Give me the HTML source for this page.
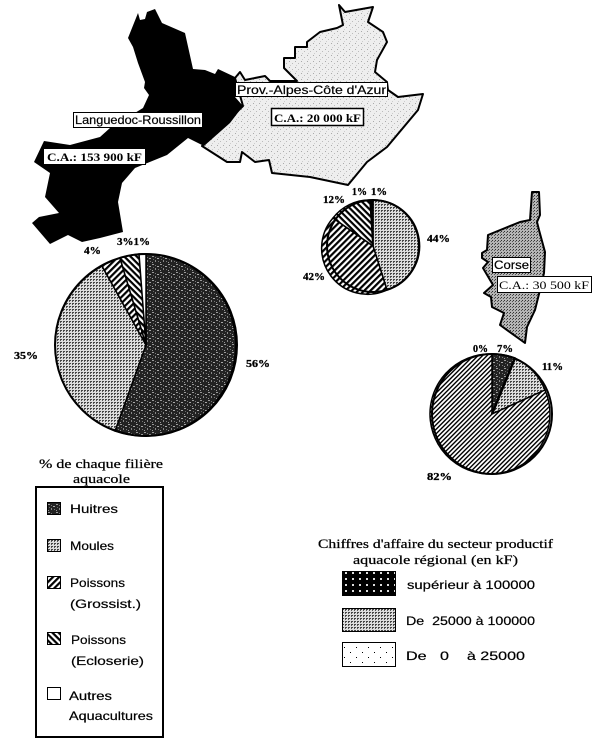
<!DOCTYPE html>
<html lang="fr">
<head>
<meta charset="utf-8">
<title>Secteur aquacole régional</title>
<style>
html,body{margin:0;padding:0;background:#fff}
svg{display:block}
text{fill:#000;white-space:pre}
.s{font-family:"Liberation Sans",sans-serif;font-size:12px;stroke:#000;stroke-width:.2px}
.b{font-family:"Liberation Serif",serif;font-size:12px;font-weight:bold}
.p{font-family:"Liberation Serif",serif;font-size:11px;font-weight:bold;stroke:#000;stroke-width:.3px}
.t{font-family:"Liberation Serif",serif;font-size:13px;stroke:#000;stroke-width:.25px}
</style>
</head>
<body>
<svg xmlns="http://www.w3.org/2000/svg" width="600" height="747" viewBox="0 0 600 747">
<defs>
<pattern id="dark" width="8" height="8" patternUnits="userSpaceOnUse">
<rect width="8" height="8" fill="#222"/>
<rect x="0" y="0" width="2" height="1" fill="#999"/><rect x="3" y="1" width="1" height="1" fill="#777"/>
<rect x="5" y="2" width="2" height="1" fill="#aaa"/><rect x="1" y="3" width="1" height="1" fill="#666"/>
<rect x="3" y="4" width="1" height="2" fill="#888"/><rect x="6" y="5" width="1" height="1" fill="#777"/>
<rect x="0" y="6" width="1" height="1" fill="#999"/>
</pattern>
<pattern id="moules" width="3" height="3" patternUnits="userSpaceOnUse">
<rect width="3" height="3" fill="#ddd"/>
<rect x="0" y="0" width="2" height="1" fill="#444"/><rect x="0" y="1" width="1" height="1" fill="#555"/>
</pattern>
<pattern id="gross" width="4.4" height="4.4" patternUnits="userSpaceOnUse" patternTransform="rotate(-45)">
<rect width="4.4" height="4.4" fill="#fff"/><rect width="4.4" height="2.2" fill="#000"/>
</pattern>
<pattern id="eclo" width="4.4" height="4.4" patternUnits="userSpaceOnUse" patternTransform="rotate(45)">
<rect width="4.4" height="4.4" fill="#fff"/><rect width="4.4" height="2.2" fill="#000"/>
</pattern>
<pattern id="fine" width="3.2" height="3.2" patternUnits="userSpaceOnUse" patternTransform="rotate(-45)">
<rect width="3.2" height="3.2" fill="#fff"/><rect width="3.2" height="1.4" fill="#000"/>
</pattern>
<pattern id="paca" width="6" height="6" patternUnits="userSpaceOnUse">
<rect width="6" height="6" fill="#eee"/>
<rect x="1" y="1" width="1" height="1" fill="#aaa"/><rect x="4" y="3" width="1" height="1" fill="#bbb"/>
<rect x="2" y="5" width="1" height="1" fill="#ccc"/>
</pattern>
<pattern id="corse" width="3" height="3" patternUnits="userSpaceOnUse">
<rect width="3" height="3" fill="#b5b5b5"/>
<rect x="0" y="0" width="1" height="1" fill="#333"/><rect x="2" y="1" width="1" height="1" fill="#555"/>
</pattern>
<pattern id="blackdots" width="7" height="6" patternUnits="userSpaceOnUse">
<rect width="7" height="6" fill="#000"/><rect x="2" y="2" width="2" height="2" fill="#ddd"/>
</pattern>
<pattern id="sparse" width="12" height="10" patternUnits="userSpaceOnUse">
<rect width="12" height="10" fill="#fff"/><rect x="2" y="2" width="1" height="1" fill="#000"/><rect x="8" y="7" width="1" height="1" fill="#000"/>
</pattern>
</defs>

<!-- PACA -->
<path d="M339 5L345 12L373 7L368 22L383 32L387 42L377 60L375 72L387 82L388 90L398 97L423 94L418 110L387 147L367 162L348 185L310 177L272 173L269 160L255 162L242 152L240 162L227 162L202 146L243 106L235 78L240 72L245 80L265 76L270 81L297 81L284 68L284 58L295 58L295 47L307 47L307 42L320 32L337 28L343 25Z" fill="url(#paca)" stroke="#000" stroke-width="2" stroke-linejoin="round"/>

<!-- Languedoc-Roussillon -->
<path d="M138 13L140 20L145 19L147 12L155 9L162 23L185 33L193 69L205 70L215 74L218 69L235 77L235 97L243 106L230 123L204 146L188 138L167 155L135 168L122 183L118 202L123 232L100 238L82 242L68 235L50 244L32 223L39 217L59 213L45 197L50 173L34 162L44 141L70 145L100 137L110 128L143 108L149 95L144 88L145 82L138 63L133 47L128 38Z" fill="#000"/>

<!-- Corse -->
<path d="M532 192L539 192L540 215L537 222L539 230L545 252L544 273L540 290L535 310L527 327L525 343L500 325L504 313L492 307L491 297L484 293L493 285L483 268L488 262L482 258L482 253L487 250L488 235L520 222L530 220Z" fill="url(#corse)" stroke="#000" stroke-width="2" stroke-linejoin="round"/>

<!-- Big pie -->
<g stroke="#000" stroke-width="1.5" stroke-linejoin="round">
<path d="M146 345L146 254A91 91 0 1 1 115 431Z" fill="url(#dark)"/>
<path d="M146 345L115 431A91 91 0 0 1 102 266Z" fill="url(#moules)"/>
<path d="M146 345L102 266A91 91 0 0 1 120 258Z" fill="url(#gross)"/>
<path d="M146 345L120 258A91 91 0 0 1 139 254Z" fill="url(#eclo)"/>
<path d="M146 345L139 254A91 91 0 0 1 146 254Z" fill="#fff"/>
<circle cx="146" cy="345" r="91" fill="none" stroke-width="2"/>
</g>

<!-- Medium pie -->
<g stroke="#000" stroke-width="1.5" stroke-linejoin="round">
<path d="M373 246L373 200A46 46 0 0 1 387 290Z" fill="url(#moules)"/>
<path d="M373 246L387 290A46 46 0 0 1 333 218Z" fill="url(#gross)"/>
<path d="M373 246L333 218A46 46 0 0 1 370 200Z" fill="url(#eclo)"/>
<path d="M373 246L370 200L373 200Z" fill="#000"/>
<circle cx="373" cy="246" r="46" fill="none" stroke-width="2"/>
</g>

<!-- Corse pie -->
<g stroke="#000" stroke-width="1.5" stroke-linejoin="round">
<path d="M492 414L492 354A60 60 0 0 1 515 358Z" fill="url(#dark)"/>
<path d="M492 414L515 358A60 60 0 0 1 545 390Z" fill="url(#moules)"/>
<path d="M492 414L545 390A60 60 0 1 1 492 354Z" fill="url(#fine)"/>
<path d="M492 414L515 358" fill="none" stroke-width="2.5"/>
<circle cx="492" cy="414" r="60" fill="none" stroke-width="2"/>
</g>

<!-- Map labels -->
<rect x="73.5" y="112.5" width="129" height="15" fill="#fff" stroke="#000"/>
<text class="s" x="75" y="124" textLength="126" lengthAdjust="spacingAndGlyphs">Languedoc-Roussillon</text>
<rect x="43.5" y="148.5" width="102" height="16" fill="#fff" stroke="#000"/>
<text class="b" x="47" y="161" textLength="95" lengthAdjust="spacingAndGlyphs">C.A.: 153 900 kF</text>
<rect x="235.5" y="82.5" width="152" height="14" fill="#fff" stroke="#000"/>
<text class="s" x="237" y="94" textLength="149" lengthAdjust="spacingAndGlyphs">Prov.-Alpes-Côte d'Azur</text>
<rect x="271.5" y="108.5" width="92" height="17" fill="#fff" stroke="#000" stroke-width="1.5"/>
<text class="b" x="274" y="122" textLength="87" lengthAdjust="spacingAndGlyphs">C.A.: 20 000 kF</text>
<rect x="492.5" y="257.5" width="38" height="15" fill="#fff" stroke="#000"/>
<text class="s" x="494" y="269" textLength="35" lengthAdjust="spacingAndGlyphs">Corse</text>
<rect x="497.5" y="276.5" width="94" height="16" fill="#fff" stroke="#000"/>
<text class="b" x="499" y="289" textLength="90" lengthAdjust="spacingAndGlyphs" style="font-weight:normal">C.A.: 30 500 kF</text>

<!-- Percent labels -->
<text class="p" x="84" y="254" textLength="17" lengthAdjust="spacingAndGlyphs">4%</text>
<text class="p" x="117" y="245" textLength="33" lengthAdjust="spacingAndGlyphs">3%1%</text>
<text class="p" x="14" y="359" textLength="24" lengthAdjust="spacingAndGlyphs">35%</text>
<text class="p" x="246" y="367" textLength="24" lengthAdjust="spacingAndGlyphs">56%</text>
<text class="p" x="323" y="203" textLength="22" lengthAdjust="spacingAndGlyphs">12%</text>
<text class="p" x="352" y="195" textLength="15" lengthAdjust="spacingAndGlyphs">1%</text>
<text class="p" x="371" y="195" textLength="16" lengthAdjust="spacingAndGlyphs">1%</text>
<text class="p" x="427" y="242" textLength="23" lengthAdjust="spacingAndGlyphs">44%</text>
<text class="p" x="303" y="280" textLength="22" lengthAdjust="spacingAndGlyphs">42%</text>
<text class="p" x="473" y="352" textLength="15" lengthAdjust="spacingAndGlyphs">0%</text>
<text class="p" x="497" y="352" textLength="16" lengthAdjust="spacingAndGlyphs">7%</text>
<text class="p" x="542" y="370" textLength="21" lengthAdjust="spacingAndGlyphs">11%</text>
<text class="p" x="427" y="480" textLength="25" lengthAdjust="spacingAndGlyphs">82%</text>

<!-- Left legend -->
<text class="t" x="39" y="468" textLength="124" lengthAdjust="spacingAndGlyphs">% de chaque filière</text>
<text class="t" x="73" y="483" textLength="57" lengthAdjust="spacingAndGlyphs">aquacole</text>
<rect x="36" y="487" width="127" height="250" fill="#fff" stroke="#000" stroke-width="2"/>
<g stroke="#000">
<rect x="47.5" y="502.5" width="13" height="12" fill="url(#dark)"/>
<rect x="47.5" y="539.5" width="13" height="12" fill="url(#moules)"/>
<rect x="47.5" y="576.5" width="13" height="12" fill="url(#gross)"/>
<rect x="47.5" y="632.5" width="13" height="12" fill="url(#eclo)"/>
<rect x="47.5" y="687.5" width="13" height="12" fill="#fff"/>
</g>
<text class="s" x="70" y="513" textLength="48" lengthAdjust="spacingAndGlyphs">Huitres</text>
<text class="s" x="70" y="550" textLength="44" lengthAdjust="spacingAndGlyphs">Moules</text>
<text class="s" x="70" y="587" textLength="55" lengthAdjust="spacingAndGlyphs">Poissons</text>
<text class="s" x="70" y="608" textLength="71" lengthAdjust="spacingAndGlyphs">(Grossist.)</text>
<text class="s" x="71" y="644" textLength="55" lengthAdjust="spacingAndGlyphs">Poissons</text>
<text class="s" x="71" y="665" textLength="73" lengthAdjust="spacingAndGlyphs">(Ecloserie)</text>
<text class="s" x="69" y="700" textLength="43" lengthAdjust="spacingAndGlyphs">Autres</text>
<text class="s" x="69" y="720" textLength="84" lengthAdjust="spacingAndGlyphs">Aquacultures</text>

<!-- Right legend -->
<text class="t" x="318" y="548" textLength="235" lengthAdjust="spacingAndGlyphs">Chiffres d'affaire du secteur productif</text>
<text class="t" x="353" y="564" textLength="165" lengthAdjust="spacingAndGlyphs">aquacole régional (en kF)</text>
<g stroke="#000">
<rect x="342.5" y="571.5" width="53" height="24" fill="url(#blackdots)"/>
<rect x="342.5" y="608.5" width="53" height="23" fill="url(#moules)"/>
<rect x="342.5" y="642.5" width="53" height="24" fill="url(#sparse)"/>
</g>
<text class="s" x="407" y="589" textLength="128" lengthAdjust="spacingAndGlyphs">supérieur à 100000</text>
<text class="s" x="406" y="625" textLength="129" lengthAdjust="spacingAndGlyphs">De  25000 à 100000</text>
<text class="s" x="406" y="660" textLength="119" lengthAdjust="spacingAndGlyphs">De   0    à 25000</text>
</svg>
</body>
</html>
